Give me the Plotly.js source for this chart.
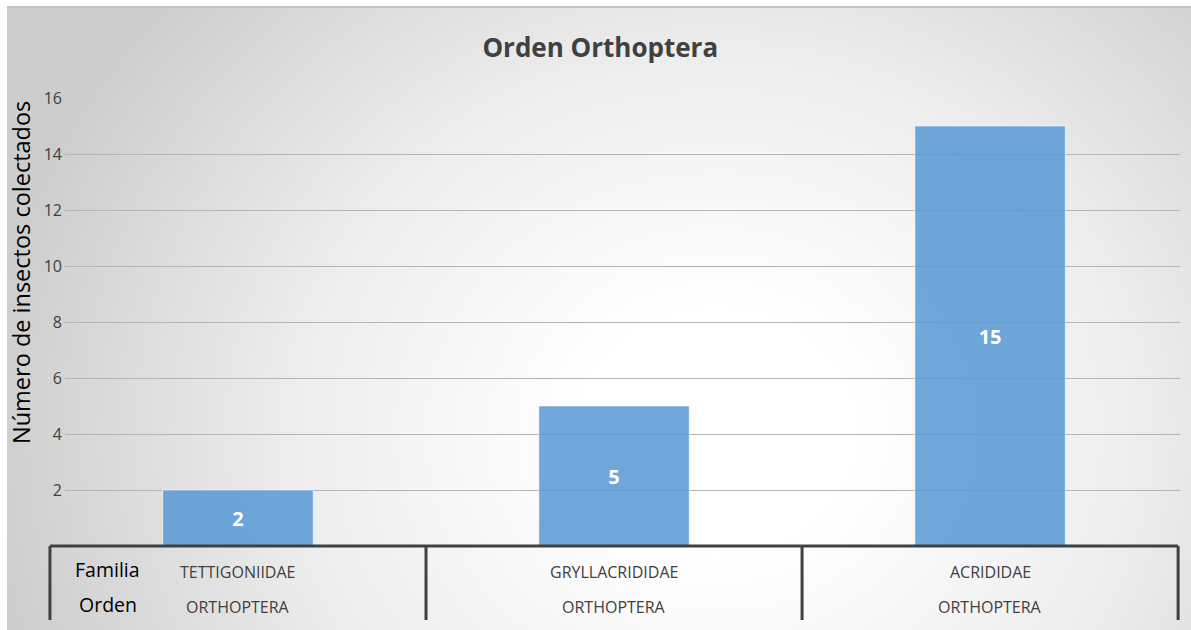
<!DOCTYPE html>
<html>
<head>
<meta charset="utf-8">
<script src="https://cdn.plot.ly/plotly-3.0.1.min.js"></script>
<style>
  html, body { margin:0; padding:0; background:#ffffff; }
  #bg { position:absolute; left:7px; top:6px; width:1184px; height:624px;
        border-top:2px solid #c4c4c4;
        background: radial-gradient(ellipse 62% 105% at 60% 68%, #ffffff 0%, #ffffff 18%, #ededed 58%, #cdcdcd 100%); }
  #chart { position:absolute; left:0; top:0; width:1191px; height:630px; }
</style>
</head>
<body>
<div id="bg"></div>
<div id="chart"></div>
<script>
// ---- data ----
const familias = ['TETTIGONIIDAE', 'GRYLLACRIDIDAE', 'ACRIDIDAE'];
const ordenes = ['ORTHOPTERA', 'ORTHOPTERA', 'ORTHOPTERA'];
const colectados = [2, 5, 15];
const yTickVals = [2, 4, 6, 8, 10, 12, 14, 16];
const rowLabels = ['Familia', 'Orden'];
const chartTitle = 'Orden Orthoptera';
const yTitle = 'Número de insectos colectados';

// ---- layout geometry ----
const W = 1191, H = 630;
const margin = {l: 65, r: 11, t: 98, b: 84};
const xRange = [-0.46, 2.505];
const plotH = H - margin.t - margin.b;
const toPaperX = v => (v - xRange[0]) / (xRange[1] - xRange[0]);
const tableBottom = -74 / plotH;

const shapes = [];
const lineStyle = {color: '#404040', width: 3};
shapes.push({type: 'line', xref: 'paper', yref: 'paper',
  x0: toPaperX(-0.5), x1: toPaperX(familias.length - 0.5), y0: 0, y1: 0, line: lineStyle});
for (let i = 0; i <= familias.length; i++) {
  const px = toPaperX(i - 0.5);
  shapes.push({type: 'line', xref: 'paper', yref: 'paper',
    x0: px, x1: px, y0: 0, y1: tableBottom, line: lineStyle});
}

const annotations = [];
const catFont = {family: 'Open Sans, sans-serif', size: 16, color: '#404040'};
familias.forEach((f, i) => {
  annotations.push({xref: 'x', yref: 'paper', x: f, y: 0, yshift: -26,
    text: f, showarrow: false, xanchor: 'center', yanchor: 'middle', font: catFont});
  annotations.push({xref: 'x', yref: 'paper', x: f, y: 0, yshift: -61,
    text: ordenes[i], showarrow: false, xanchor: 'center', yanchor: 'middle', font: catFont});
});
const rowFont = {family: 'Open Sans, sans-serif', size: 19.5, color: '#000000'};
annotations.push({xref: 'paper', yref: 'paper', x: toPaperX(-0.5), xshift: 58, y: 0, yshift: -23,
  text: rowLabels[0], showarrow: false, xanchor: 'center', yanchor: 'middle', font: rowFont});
annotations.push({xref: 'paper', yref: 'paper', x: toPaperX(-0.5), xshift: 58, y: 0, yshift: -58,
  text: rowLabels[1], showarrow: false, xanchor: 'center', yanchor: 'middle', font: rowFont});
annotations.push({xref: 'paper', yref: 'paper', x: 0, xshift: -44, y: (546 - 273) / plotH,
  text: yTitle, textangle: -90, showarrow: false, xanchor: 'center', yanchor: 'middle',
  font: {family: 'Open Sans, sans-serif', size: 23.5, color: '#000000'}});

const trace = {
  type: 'bar',
  x: familias,
  y: colectados,
  width: 0.4,
  marker: {color: 'rgba(91,155,213,0.88)', line: {color: 'rgba(255,255,255,0.6)', width: 1}},
  text: colectados.map(String),
  textposition: 'inside',
  insidetextanchor: 'middle',
  constraintext: 'none',
  textfont: {family: 'Open Sans, sans-serif', size: 20, color: '#ffffff', weight: 'bold'},
  hoverinfo: 'skip'
};

const layout = {
  width: W, height: H,
  margin: margin,
  paper_bgcolor: 'rgba(0,0,0,0)',
  plot_bgcolor: 'rgba(0,0,0,0)',
  showlegend: false,
  title: {text: '<b>' + chartTitle + '</b>', x: 0.504, xanchor: 'center',
    y: 1 - 48 / H, yanchor: 'middle', yref: 'container',
    font: {family: 'Open Sans, sans-serif', size: 26, color: '#404040'}},
  xaxis: {type: 'category', range: xRange, showticklabels: false, showgrid: false,
    zeroline: false, showline: false, ticks: '', fixedrange: true},
  yaxis: {range: [0, 16], tickvals: yTickVals, ticktext: yTickVals.map(String),
    showgrid: true, gridcolor: '#b5b5b5', gridwidth: 1, zeroline: false, showline: false,
    ticks: '', ticklabelstandoff: 2,
    tickfont: {family: 'Open Sans, sans-serif', size: 16, color: '#404040'}, fixedrange: true},
  shapes: shapes,
  annotations: annotations
};

Plotly.newPlot('chart', [trace], layout, {staticPlot: true, displayModeBar: false});
</script>
</body>
</html>
